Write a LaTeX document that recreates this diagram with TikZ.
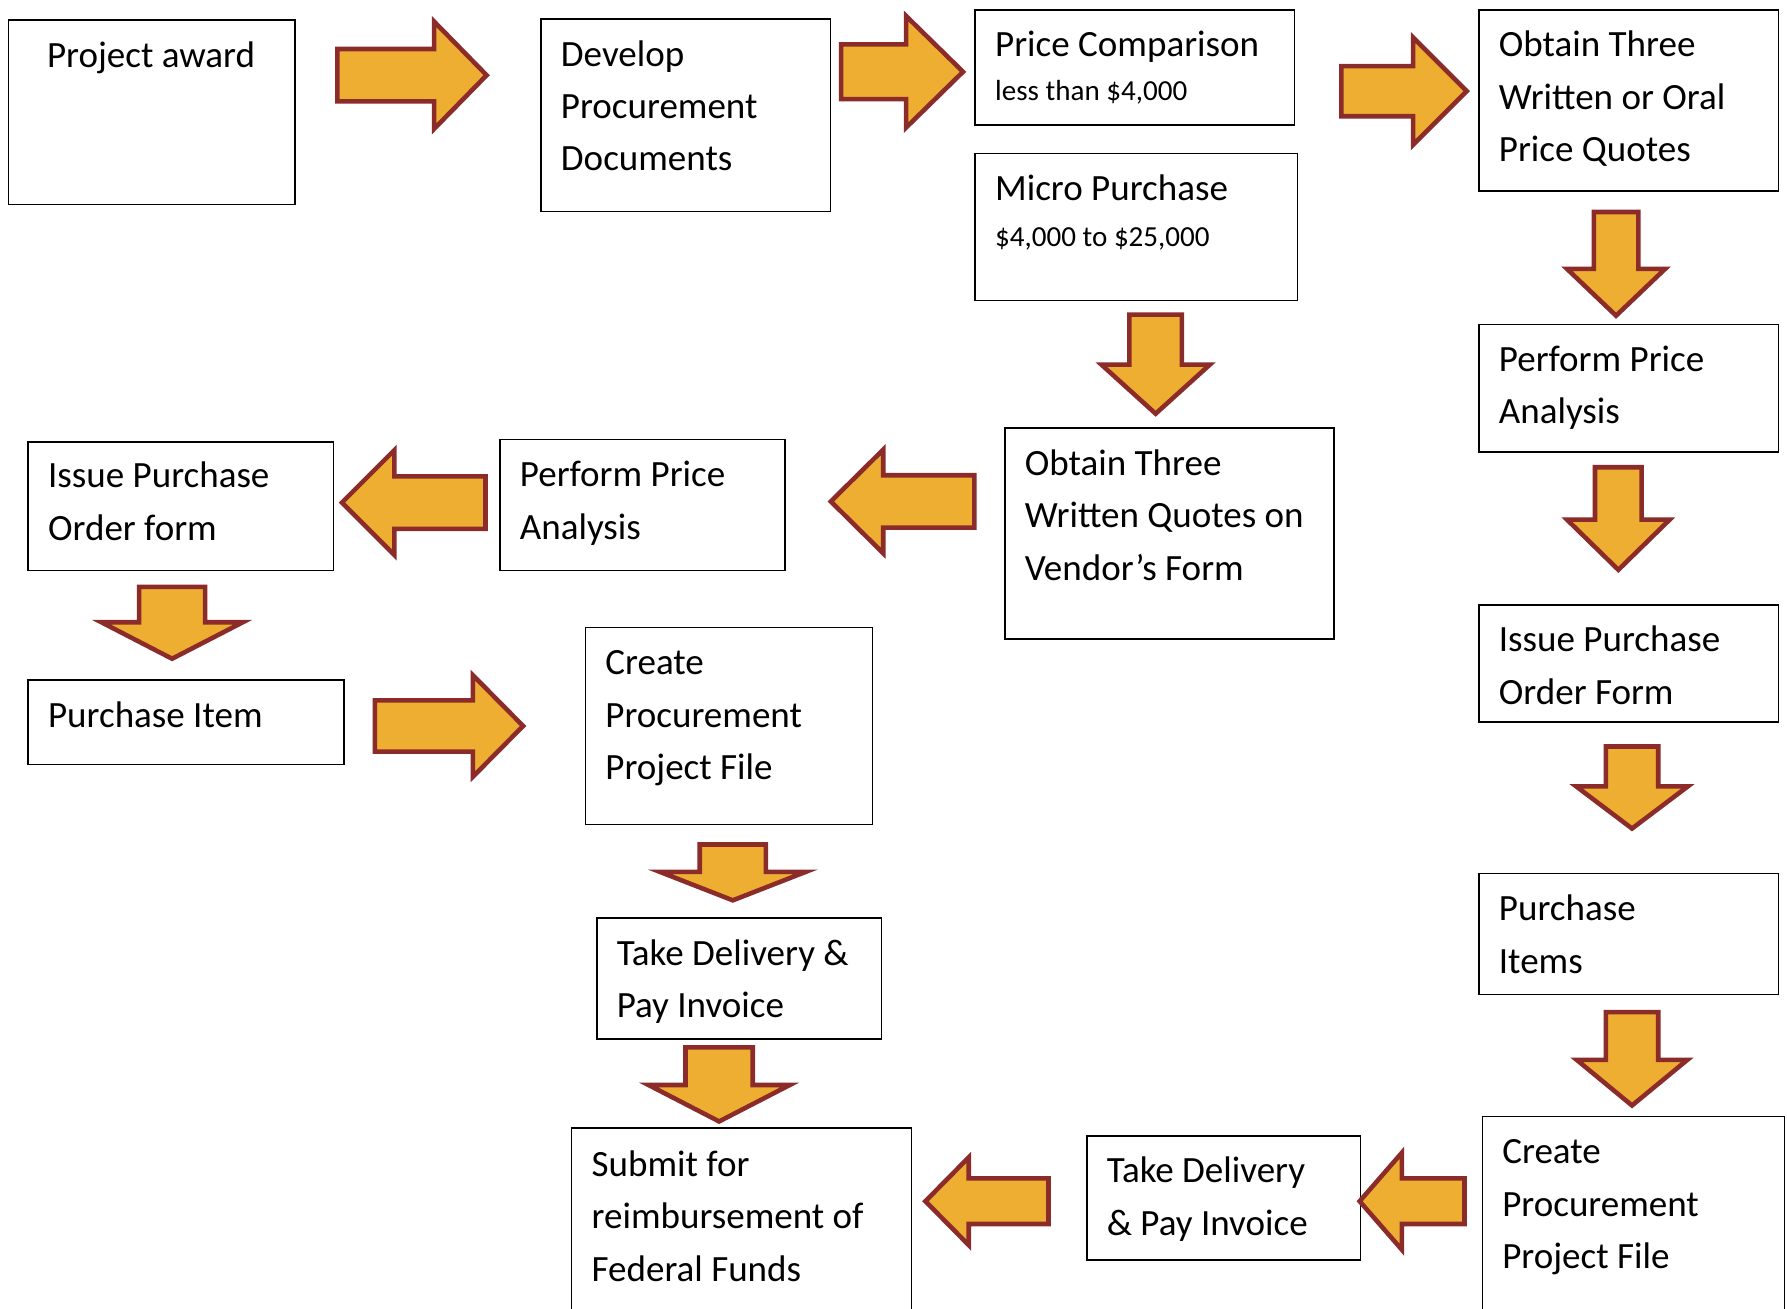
\documentclass[tikz,border=0pt]{standalone}
\usepackage{fontspec}
\setmainfont{Carlito}
\definecolor{arrfill}{HTML}{EDAE31}
\definecolor{arrline}{HTML}{8B2C2A}
\tikzset{
  box/.style={draw=black, line width=1.3pt, anchor=north west, inner sep=0pt},
  txt/.style={anchor=base west, inner sep=0pt, align=left, font=\fontsize{32.5}{46}\selectfont},
  smalltxt/.style={anchor=base west, inner sep=0pt, font=\fontsize{25.5}{30}\selectfont},
  blk/.style={fill=arrfill, draw=arrline, line width=4pt, line join=miter},
}
% #1 name, #2 tail x, #3 tail y, #4 angle, #5 length, #6 shaft half width, #7 head half width, #8 head length
\newcommand{\blockarrow}[8]{%
  \coordinate (#1) at (#2,#3);
  \draw[blk, shift={(#1)}, rotate=#4] (0,-#6) -- ({#5-#8},-#6) -- ({#5-#8},-#7) -- (#5,0) -- ({#5-#8},#7) -- ({#5-#8},#6) -- (0,#6) -- cycle;}
\begin{document}
\begin{tikzpicture}[x=1pt,y=-1pt]
\useasboundingbox[fill=white] (0,0) rectangle (1568,1148);
% boxes
\node[box, minimum width=251pt, minimum height=162pt] (b1) at (7,17) {};
\node[box, minimum width=254pt, minimum height=169pt] (b2) at (474,16) {};
\node[box, minimum width=280pt, minimum height=101pt] (b3) at (855,8) {};
\node[box, minimum width=283pt, minimum height=129pt] (b4) at (855,134) {};
\node[box, minimum width=263pt, minimum height=159pt] (b5) at (1297,8) {};
\node[box, minimum width=263pt, minimum height=112pt] (b6) at (1297,284) {};
\node[box, minimum width=263pt, minimum height=103pt] (b7) at (1297,530) {};
\node[box, minimum width=263pt, minimum height=106pt] (b8) at (1297,766) {};
\node[box, minimum width=265pt, minimum height=180pt] (b9) at (1300,979) {};
\node[box, minimum width=240pt, minimum height=109pt] (b10) at (953,996) {};
\node[box, minimum width=298pt, minimum height=180pt] (b11) at (501,989) {};
\node[box, minimum width=250pt, minimum height=106pt] (b12) at (523,805) {};
\node[box, minimum width=252pt, minimum height=173pt] (b13) at (513,550) {};
\node[box, minimum width=289pt, minimum height=185pt] (b14) at (881,375) {};
\node[box, minimum width=250pt, minimum height=115pt] (b15) at (438,385) {};
\node[box, minimum width=268pt, minimum height=113pt] (b16) at (24,387) {};
\node[box, minimum width=277pt, minimum height=74pt] (b17) at (24,596) {};
% texts (anchor = baseline of the last line)
\node[txt, anchor=base] (t1) at (132.5,59) {Project award};
\node[txt] (t2) at (492,150) {Develop\\Procurement\\Documents};
\node[txt] (t3) at (873,50) {Price Comparison};
\node[smalltxt] (t3b) at (873,88) {less than \$4,000};
\node[txt] (t4) at (873,176) {Micro Purchase};
\node[smalltxt] (t4b) at (873,216) {\$4,000 to \$25,000};
\node[txt] (t5) at (1315,142) {Obtain Three\\Written or Oral\\Price Quotes};
\node[txt] (t6) at (1315,372) {Perform Price\\Analysis};
\node[txt] (t7) at (1315,618) {Issue Purchase\\Order Form};
\node[txt] (t8) at (1315,854) {Purchase\\Items};
\node[txt] (t9) at (1318,1113) {Create\\Procurement\\Project File};
\node[txt] (t10) at (971,1084) {Take Delivery\\\& Pay Invoice};
\node[txt] (t11) at (519,1124) {Submit for\\reimbursement of\\Federal Funds};
\node[txt] (t12) at (541,893) {Take Delivery \&\\Pay Invoice};
\node[txt] (t13) at (531,684) {Create\\Procurement\\Project File};
\node[txt] (t14) at (899,509) {Obtain Three\\Written Quotes on\\Vendor’s Form};
\node[txt] (t15) at (456,473) {Perform Price\\Analysis};
\node[txt] (t16) at (42,474) {Issue Purchase\\Order form};
\node[txt] (t17) at (42,638) {Purchase Item};
% block arrows
\blockarrow{a1}{296}{66}{0}{131}{23}{47}{46}
\blockarrow{a2}{738}{63}{0}{107}{24}{49}{50}
\blockarrow{a3}{1177}{80}{0}{110}{22}{47}{47}
\blockarrow{a4}{1418}{186}{-90}{91}{19.5}{43}{41}
\blockarrow{a5}{1014}{276}{-90}{87}{23}{47.5}{43}
\blockarrow{a6}{1420}{410}{-90}{90}{20.5}{45}{44}
\blockarrow{a7}{855}{440}{180}{126}{23}{45.5}{46}
\blockarrow{a8}{426}{441}{180}{126}{23}{46}{46}
\blockarrow{a9}{151}{515}{-90}{63}{29}{62}{32}
\blockarrow{a10}{329}{637}{0}{130}{22.5}{44.5}{44}
\blockarrow{a11}{643}{741}{-90}{49}{29}{64}{25}
\blockarrow{a12}{631}{919}{-90}{65}{29.5}{62}{32}
\blockarrow{a13}{1432}{655}{-90}{72}{23}{49}{37}
\blockarrow{a14}{1432}{888}{-90}{82}{23}{48.5}{40}
\blockarrow{a15}{1285}{1054}{180}{92}{20}{42.5}{37}
\blockarrow{a16}{920}{1054}{180}{108}{20}{38.5}{38}
\end{tikzpicture}
\end{document}
